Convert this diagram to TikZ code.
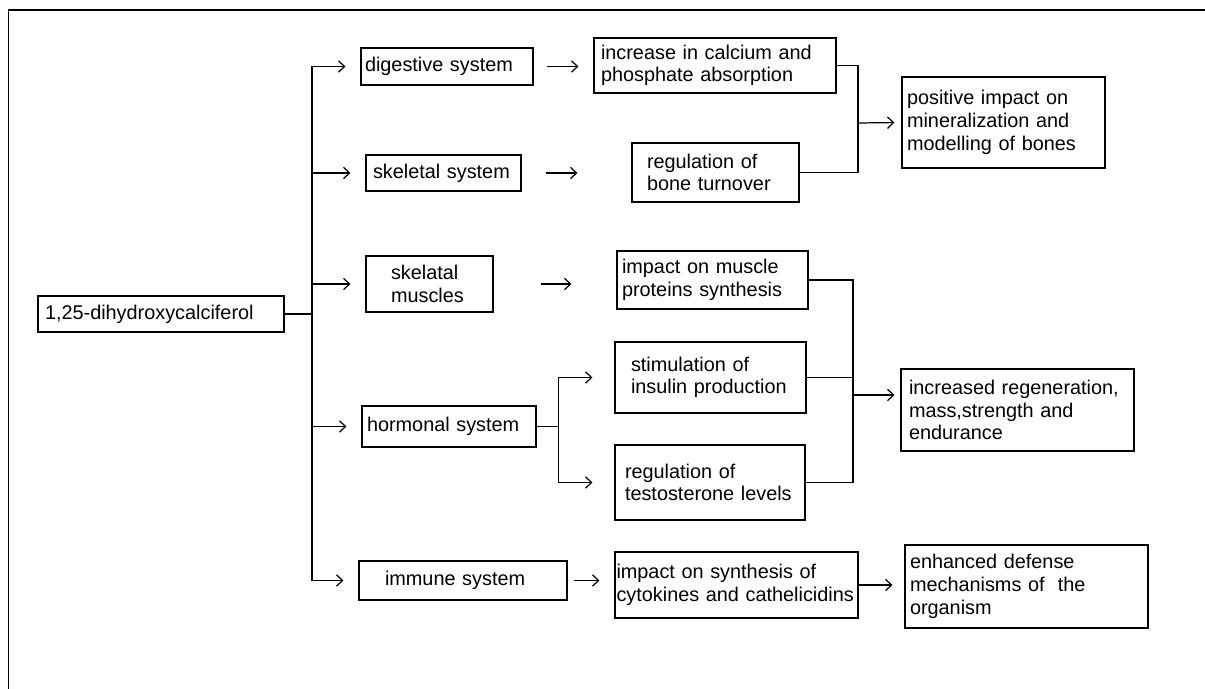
\documentclass[tikz,border=0pt]{standalone}
\usepackage{fontspec}
\setmainfont{Liberation Sans}
\usetikzlibrary{arrows.meta}

\begin{document}
\begin{tikzpicture}[
  line width=0.7pt,
  >={Straight Barb[length=3.4pt,width=6.5pt]},
  box/.style={draw, align=left, inner ysep=0pt, font=\fontsize{11.3}{12.9}\selectfont},
  arr/.style={->, shorten >=0.3cm}]

\useasboundingbox (0,0) rectangle (24.1,-13.78);

% frame
\draw (0.17,-13.78) -- (0.17,-0.2) -- (24.1,-0.2);

% source
\node[box, text width=4.64cm, inner xsep=0.14cm, minimum height=0.72cm] (calc) at (3.22,-6.28) {1,25-dihydroxycalciferol};

% systems
\node[box, text width=3.28cm, inner xsep=0.08cm, minimum height=0.74cm] (dig)  at (8.94,-1.33) {digestive system};
\node[box, text width=2.82cm, inner xsep=0.14cm, minimum height=0.72cm] (skel) at (8.87,-3.46) {skeletal system};
\node[box, text width=1.54cm, inner xsep=0.50cm, minimum height=1.12cm] (musc) at (8.59,-5.68) {skelatal\\muscles};
\node[box, text width=3.28cm, inner xsep=0.10cm, minimum height=0.82cm] (horm) at (8.98,-8.53) {hormonal system};
\node[box, text width=3.12cm, inner xsep=0.52cm, minimum height=0.78cm] (immu) at (9.26,-11.61) {immune system};

% effects
\node[box, text width=4.56cm, inner xsep=0.14cm, minimum height=1.10cm] (incr) at (14.30,-1.31) {increase in calcium and\\phosphate absorption};
\node[box, text width=2.74cm, inner xsep=0.30cm, minimum height=1.18cm] (bone) at (14.31,-3.45) {regulation of\\bone turnover};
\node[box, text width=3.62cm, inner xsep=0.10cm, minimum height=1.16cm] (prot) at (14.25,-5.60) {impact on muscle\\proteins synthesis};
\node[box, text width=3.18cm, inner xsep=0.32cm, minimum height=1.42cm] (insu) at (14.21,-7.55) {stimulation of\\insulin production};
\node[box, text width=3.40cm, inner xsep=0.20cm, minimum height=1.50cm] (test) at (14.20,-9.65) {regulation of\\testosterone levels};
\node[box, text width=4.80cm, inner xsep=0.03cm, minimum height=1.32cm] (cyto) at (14.73,-11.70) {impact on synthesis of\\cytokines and cathelicidins};

% outcomes
\node[box, text width=3.86cm, inner xsep=0.10cm, minimum height=1.82cm] (posi) at (20.07,-2.45) {positive impact on\\mineralization and\\modelling of bones};
\node[box, text width=4.34cm, inner xsep=0.16cm, minimum height=1.64cm] (rege) at (20.35,-8.20) {increased regeneration,\\mass,strength and\\endurance};
\node[box, text width=4.66cm, inner xsep=0.10cm, minimum height=1.66cm] (defe) at (20.53,-11.73) {enhanced defense\\mechanisms of~ the\\organism};

% trunk
\coordinate (tr) at (6.24,-6.28);
\draw (calc.east) -- (tr);
\foreach \n in {dig,skel,musc,horm,immu}
  \draw[arr] (tr) |- (\n.west);

% loose arrows
\draw[arr, shorten <=0.26cm] (dig.east) -- (incr.west |- dig.east);
\draw[arr, shorten <=0.48cm, shorten >=1.08cm] (skel.east) -- (bone.west |- skel.east);
\draw[arr, shorten <=0.94cm, shorten >=0.9cm] (musc.east) -- (prot.west |- musc.east);
\draw[arr, shorten <=0.12cm] (immu.east) -- (cyto.west |- immu.east);
\draw[arr, shorten >=0.24cm] (cyto.east) -- (defe.west |- cyto.east);

% bones
\coordinate (jb) at (17.16,-2.46);
\draw (incr.east) -| (jb) |- (bone.east);
\draw[arr, shorten >=0.14cm] (jb) -- (posi.west);

% hormones
\draw (horm.east) -- ++(0.44,0) coordinate (jh);
\draw[arr, shorten >=0.44cm] (jh) |- (insu.west);
\draw[arr, shorten >=0.44cm] (jh) |- (test.west);

% muscles
\coordinate (jm) at (17.06,-7.90);
\draw (prot.east) -| (jm) |- (test.east);
\draw (insu.east) -- (insu.east -| jm);
\draw[arr, shorten >=0.12cm] (jm) -- (jm -| rege.west);

\end{tikzpicture}
\end{document}
